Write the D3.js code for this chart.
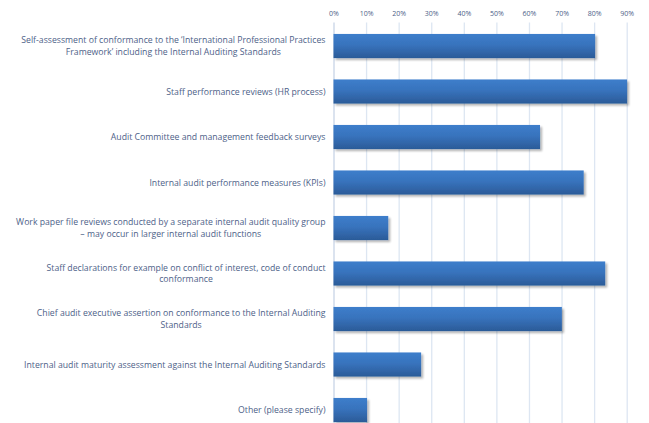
<!DOCTYPE html>
<html>
<head>
<meta charset="utf-8">
<script src="https://cdn.jsdelivr.net/npm/d3@7"></script>
<style>
  html, body { margin: 0; padding: 0; background: #fff; }
  svg { display: block; }
</style>
</head>
<body>
<svg id="chart" width="649" height="423"></svg>
<script>
// Quality assurance activities used by internal audit (share of respondents)
const categories = [
  ["Self-assessment of conformance to the \u2018International Professional Practices", "Framework\u2019 including the Internal Auditing Standards"],
  ["Staff performance reviews (HR process)"],
  ["Audit Committee and management feedback surveys"],
  ["Internal audit performance measures (KPIs)"],
  ["Work paper file reviews conducted by a separate internal audit quality group", "\u2013 may occur in larger internal audit functions"],
  ["Staff declarations for example on conflict of interest, code of conduct", "conformance"],
  ["Chief audit executive assertion on conformance to the Internal Auditing", "Standards"],
  ["Internal audit maturity assessment against the Internal Auditing Standards"],
  ["Other (please specify)"]
];
const values = [0.803, 0.901, 0.634, 0.768, 0.168, 0.834, 0.701, 0.269, 0.103];
const tickValues = [0, 0.1, 0.2, 0.3, 0.4, 0.5, 0.6, 0.7, 0.8, 0.9];

const svg = d3.select("#chart");
const font = "'Open Sans', sans-serif";
const labelColor = "#4d6188";

const x = d3.scaleLinear().domain([0, 0.9]).range([333.5, 626.7]);
const y = d3.scaleBand()
  .domain(d3.range(categories.length))
  .range([23.25, 432.75])
  .paddingInner(0.47)
  .paddingOuter(0.235);

// bar gradient
const defs = svg.append("defs");
const grad = defs.append("linearGradient")
  .attr("id", "barGrad").attr("x1", 0).attr("y1", 0).attr("x2", 0).attr("y2", 1);
grad.append("stop").attr("offset", "0%").attr("stop-color", "#3d7ecb");
grad.append("stop").attr("offset", "45%").attr("stop-color", "#3873bd");
grad.append("stop").attr("offset", "100%").attr("stop-color", "#2b5b98");

const shadow = defs.append("filter").attr("id", "shadow")
  .attr("x", "-5%").attr("y", "-20%").attr("width", "115%").attr("height", "160%");
shadow.append("feGaussianBlur").attr("in", "SourceAlpha").attr("stdDeviation", 1.2);
shadow.append("feOffset").attr("dx", 1.5).attr("dy", 1.8).attr("result", "off");
shadow.append("feComponentTransfer").append("feFuncA").attr("type", "linear").attr("slope", 0.3);
const merge = shadow.append("feMerge");
merge.append("feMergeNode");
merge.append("feMergeNode").attr("in", "SourceGraphic");

// top axis with gridlines
const axis = d3.axisTop(x)
  .tickValues(tickValues)
  .tickFormat(d3.format(".0%"))
  .tickSize(-(423 - 22.5))
  .tickPadding(4);

const gAxis = svg.append("g")
  .attr("transform", "translate(0,22.5)")
  .call(axis);
gAxis.select(".domain").remove();
gAxis.selectAll(".tick line")
  .attr("stroke", d => d === 0 ? "#c8d4e6" : "#dde6f2")
  .attr("stroke-width", 1.3);
gAxis.selectAll(".tick text")
  .attr("fill", labelColor)
  .attr("font-family", font)
  .attr("font-size", "7px")
  .attr("y", -7);

// bars
svg.append("g").selectAll("rect")
  .data(values)
  .join("rect")
  .attr("x", x(0))
  .attr("y", (d, i) => y(i))
  .attr("width", d => x(d) - x(0))
  .attr("height", y.bandwidth())
  .attr("fill", "url(#barGrad)")
  .attr("filter", "url(#shadow)");

// category labels: block right-aligned to the axis, lines centred in the block
const labels = svg.append("g")
  .attr("font-family", font)
  .attr("font-size", "8.7px")
  .attr("fill", labelColor);

const lineHeight = 11.9;
const labelRight = 325.5;

categories.forEach((lines, i) => {
  const cy = y(i) + y.bandwidth() / 2;
  const text = labels.append("text")
    .attr("text-anchor", "middle")
    .attr("y", cy - (lines.length - 1) / 2 * lineHeight);
  const spans = lines.map((line, j) =>
    text.append("tspan")
      .attr("dy", j === 0 ? "0.35em" : lineHeight)
      .text(line)
  );
  const w = d3.max(spans, s => s.node().getComputedTextLength());
  spans.forEach(s => s.attr("x", labelRight - w / 2));
});
</script>
</body>
</html>
